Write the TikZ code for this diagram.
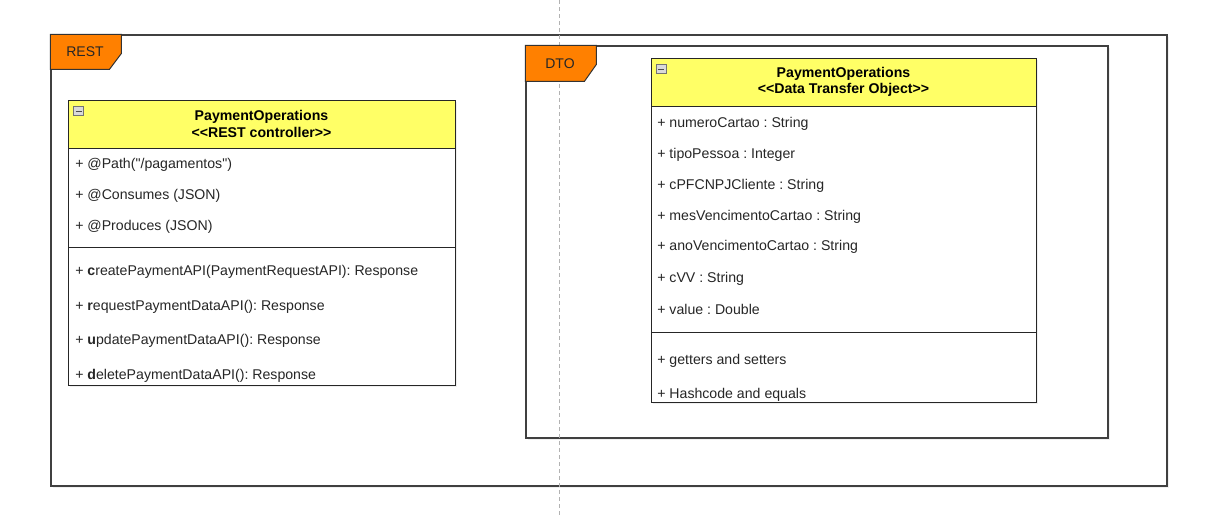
\documentclass[tikz,border=0pt]{standalone}
\usepackage{fontspec}
\setmainfont{Liberation Sans}[Ligatures=TeXOff]
\usepackage{tikz}
\usetikzlibrary{shadows}

\newcommand{\px}{0.75pt}
\frenchspacing

\begin{document}
\begin{tikzpicture}[x=0.75pt, y=-0.75pt]
        \tikzset{frame/.style = {shape=rectangle, draw=black!75, line width=1.2*\px, fill=white, inner sep=0,
            drop shadow={shadow xshift=1.5pt, shadow yshift=-1.5pt, fill=black!40, opacity=0.15}}}
        \tikzset{tab/.style = {draw=black!80, line width=1*\px, fill={rgb,255:red,255;green,128;blue,0}}}
        \tikzset{tabtext/.style = {font=\fontsize{10.5}{12}\selectfont, text=black!85, inner sep=0}}
        \tikzset{head/.style = {shape=rectangle, draw=black!85, line width=1*\px, fill={rgb,255:red,255;green,255;blue,102},
            inner sep=0, align=center, font=\fontsize{10.6}{12.5}\selectfont\bfseries,
            drop shadow={shadow xshift=1.5pt, shadow yshift=-1.5pt, fill=black!40, opacity=0.15}}}
        \tikzset{part/.style = {shape=rectangle, draw=black!85, line width=1*\px, fill=white, inner sep=0,
            drop shadow={shadow xshift=1.5pt, shadow yshift=-1.5pt, fill=black!40, opacity=0.15}}}
        \tikzset{row/.style = {anchor=west, inner sep=0, font=\fontsize{10.6}{12}\selectfont, text=black!85}}
        \tikzset{minus/.style = {shape=rectangle, draw=black!55, fill=black!15, line width=0.6*\px,
            minimum width=10*\px, minimum height=9*\px, inner sep=0,
            path picture={\draw[black!70, line width=1*\px] ([xshift=1.5pt]path picture bounding box.west)
                -- ([xshift=-1.5pt]path picture bounding box.east);}}}

        \useasboundingbox (0,0) rectangle (1222,518);

        % containers
        \node[frame, minimum width=1116*\px, minimum height=451*\px] (rest) at (609,260.5) {};
        \node[frame, minimum width=582*\px, minimum height=392*\px] (dto) at (817,242) {};

        % page break guide
        \coordinate (top) at (559,0);
        \coordinate (bottom) at (559,518);
        \draw[black!30, dashed, line width=1*\px, dash pattern=on 4*\px off 3*\px] (top) -- (bottom);

        % tabs
        \draw[tab] (rest.north west) -- ++(71,0) -- ++(0,19) -- ++(-12,16) -- ++(-59,0) -- cycle;
        \node[tabtext] (resttab) at (85,52) {REST};
        \draw[tab] (dto.north west) -- ++(71,0) -- ++(0,19) -- ++(-12,17) -- ++(-59,0) -- cycle;
        \node[tabtext] (dtotab) at (560,64) {DTO};

        % REST controller class
        \node[head, minimum width=387*\px, minimum height=48*\px] (resthead) at (261.5,124)
            {PaymentOperations\\<<REST controller>>};
        \node[part, minimum width=387*\px, minimum height=99*\px] (restattr) at (261.5,197.5) {};
        \node[part, minimum width=387*\px, minimum height=138*\px] (restops) at (261.5,316) {};
        \node[minus] (restmin) at (78.5,111) {};

        \node[row] (r1) at (75,165) {+ @Path("/pagamentos")};
        \node[row] (r2) at (75,196) {+ @Consumes (JSON)};
        \node[row] (r3) at (75,227) {+ @Produces (JSON)};
        \node[row] (m1) at (75,272) {+ \textbf{c}reatePaymentAPI(PaymentRequestAPI): Response};
        \node[row] (m2) at (75,307) {+ \textbf{r}equestPaymentDataAPI(): Response};
        \node[row] (m3) at (75,341) {+ \textbf{u}pdatePaymentDataAPI(): Response};
        \node[row] (m4) at (75,376) {+ \textbf{d}eletePaymentDataAPI(): Response};

        % DTO class
        \node[head, minimum width=385*\px, minimum height=48*\px] (dtohead) at (843.5,82)
            {PaymentOperations\\<<Data Transfer Object>>};
        \node[part, minimum width=385*\px, minimum height=226*\px] (dtoattr) at (843.5,219) {};
        \node[part, minimum width=385*\px, minimum height=70*\px] (dtoops) at (843.5,367) {};
        \node[minus] (dtomin) at (661,69) {};

        \node[row] (d1) at (657,124) {+ numeroCartao : String};
        \node[row] (d2) at (657,155) {+ tipoPessoa : Integer};
        \node[row] (d3) at (657,186) {+ cPFCNPJCliente : String};
        \node[row] (d4) at (657,217) {+ mesVencimentoCartao : String};
        \node[row] (d5) at (657,247) {+ anoVencimentoCartao : String};
        \node[row] (d6) at (657,279) {+ cVV : String};
        \node[row] (d7) at (657,309) {+ value : Double};
        \node[row] (g1) at (657,361) {+ getters and setters};
        \node[row] (g2) at (657,395) {+ Hashcode and equals};
      \end{tikzpicture}
\end{document}
